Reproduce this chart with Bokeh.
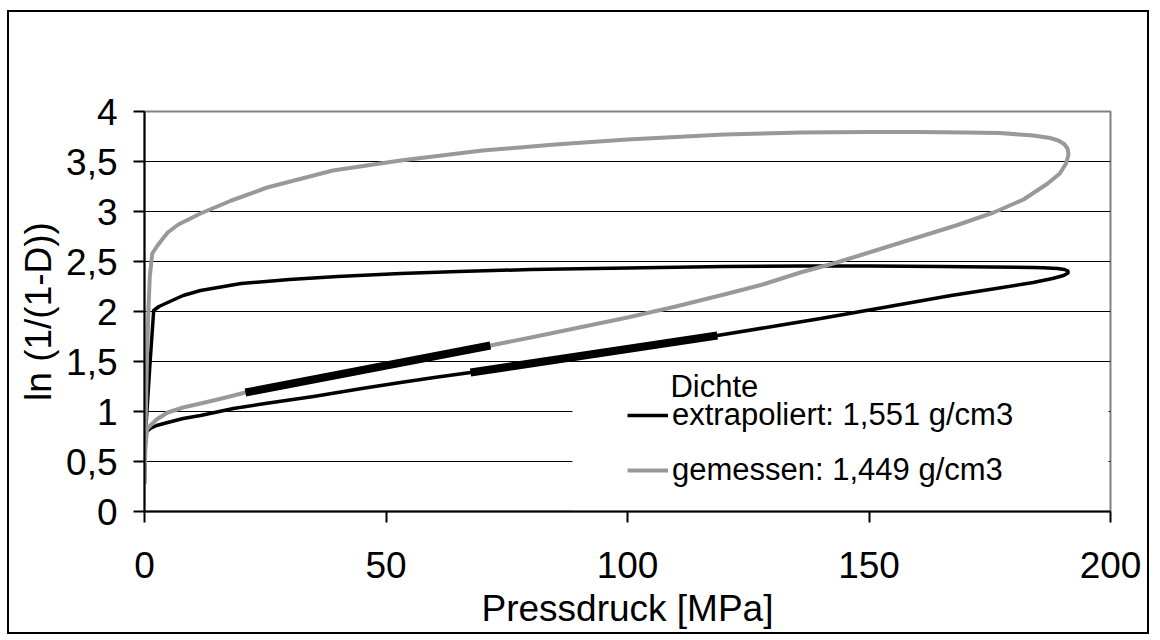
from bokeh.plotting import figure
from bokeh.models import Legend, LegendItem, BoxAnnotation, Label, FixedTicker, Range1d
from bokeh.embed import file_html
from bokeh.resources import INLINE

# Pressdruck [MPa] vs. ln(1/(1-D)), density 1,551 g/cm3 (extrapolated)
extrap_p = [0, 0.2, 0.5, 1.2, 2.5, 4.8, 8, 11.6, 18.4, 25, 35, 45, 53, 60, 67.5,
            80, 95, 110, 118.6, 130, 140, 153, 160, 167, 175, 184, 188, 190.3,
            191.2, 191.2, 190.5, 189, 186, 184, 175, 165, 150, 136, 120, 100, 80, 65, 53,
            40, 30, 20, 11.6, 8, 4.8, 3, 1.9, 1.1, 0.5, 0.2, 0]
extrap_v = [0.28, 0.78, 0.80, 0.83, 0.86, 0.89, 0.93, 0.96, 1.03, 1.08, 1.15, 1.23, 1.29, 1.34, 1.39,
            1.48, 1.59, 1.69, 1.76, 1.85, 1.93, 2.04, 2.10, 2.16, 2.22, 2.29, 2.33, 2.36,
            2.385, 2.405, 2.42, 2.43, 2.437, 2.44, 2.445, 2.45, 2.455, 2.455, 2.45, 2.435, 2.42, 2.40, 2.38,
            2.35, 2.32, 2.28, 2.21, 2.16, 2.09, 2.05, 2.01, 1.45, 1.00, 0.79, 0.28]

# density 1,449 g/cm3 (measured)
gemessen_p = [0, 0.15, 0.5, 1.2, 2.5, 4.8, 8, 11.6, 16, 20.9, 30, 40, 50, 60, 71.6,
              80, 90, 100, 110, 120, 128, 135.8, 142.6, 150, 160, 168, 175.8, 182,
              187, 189.5, 190.8, 191.3, 191.1, 190.4, 189.2, 187.5, 184, 177, 170, 160, 150, 136,
              120, 100, 85, 70, 53, 39, 25.4, 18, 11.6, 7, 4.8, 2.7, 1.6, 1.1, 0.8,
              0.5, 0.25, 0]
gemessen_v = [0.28, 0.6, 0.82, 0.86, 0.92, 0.99, 1.04, 1.08, 1.13, 1.19, 1.27, 1.36, 1.46, 1.56, 1.66,
              1.74, 1.84, 1.94, 2.05, 2.17, 2.27, 2.39, 2.48, 2.59, 2.74, 2.86, 2.99, 3.12,
              3.28, 3.38, 3.48, 3.57, 3.63, 3.675, 3.71, 3.735, 3.76, 3.785, 3.79, 3.795, 3.795, 3.79,
              3.77, 3.72, 3.67, 3.61, 3.51, 3.41, 3.24, 3.11, 2.98, 2.87, 2.79, 2.66, 2.58, 2.35, 2.0,
              1.5, 0.9, 0.28]

# linear fit ranges on both loading curves
fit_gem_p = [20.9, 71.6]
fit_gem_v = [1.19, 1.66]
fit_ext_p = [67.5, 118.6]
fit_ext_v = [1.39, 1.76]

x_ticks = [0, 50, 100, 150, 200]
y_ticks = [0, 0.5, 1, 1.5, 2, 2.5, 3, 3.5, 4]
y_tick_labels = ["0", "0,5", "1", "1,5", "2", "2,5", "3", "3,5", "4"]
grid_levels = [0.5, 1, 1.5, 2, 2.5, 3, 3.5]

FONT = "Liberation Sans"

p = figure(width=1142, height=624, output_backend="svg", toolbar_location=None,
           x_range=Range1d(0, 200), y_range=Range1d(0, 4),
           min_border_left=135, min_border_right=41, min_border_top=99, min_border_bottom=125,
           margin=(10, 0, 0, 7), styles={"border": "2px solid black"})
p.background_fill_color = "white"
p.border_fill_color = "white"
p.outline_line_color = "#808080"
p.outline_line_width = 2

p.xgrid.visible = False
p.ygrid.ticker = FixedTicker(ticks=grid_levels)
p.ygrid.grid_line_color = "black"
p.ygrid.grid_line_width = 1

for ax in (p.xaxis[0], p.yaxis[0]):
    ax.axis_line_color = "black"
    ax.axis_line_width = 2
    ax.major_tick_line_color = "black"
    ax.major_tick_line_width = 2
    ax.major_tick_in = 0
    ax.major_tick_out = 11
    ax.minor_tick_line_color = None
    ax.major_label_text_font = FONT
    ax.major_label_text_font_size = "37px"
    ax.major_label_text_color = "black"
    ax.axis_label_text_font = FONT
    ax.axis_label_text_font_size = "37px"
    ax.axis_label_text_font_style = "normal"
    ax.axis_label_text_color = "black"

p.xaxis.ticker = FixedTicker(ticks=x_ticks)
p.yaxis.ticker = FixedTicker(ticks=y_ticks)
p.yaxis.major_label_overrides = dict(zip(y_ticks, y_tick_labels))
p.xaxis.axis_label = "Pressdruck [MPa]"
p.yaxis.axis_label = "ln (1/(1-D))"
p.xaxis.major_label_standoff = 29
p.xaxis.axis_label_standoff = 7
p.yaxis.major_label_standoff = 16
p.yaxis.axis_label_standoff = 4

# white area behind the legend
p.add_layout(BoxAnnotation(left=88.6, right=199.6, bottom=0.01, top=1.45,
                           fill_color="white", fill_alpha=1, line_color=None,
                           level="underlay"))

r_ext = p.line(extrap_p, extrap_v, line_color="black", line_width=3.5, line_join="round")
r_gem = p.line(gemessen_p, gemessen_v, line_color="#999999", line_width=4, line_join="round")
p.line(fit_gem_p, fit_gem_v, line_color="black", line_width=8, line_cap="butt")
p.line(fit_ext_p, fit_ext_v, line_color="black", line_width=8, line_cap="butt")

legend = Legend(items=[LegendItem(label="extrapoliert: 1,551 g/cm3", renderers=[r_ext]),
                       LegendItem(label="gemessen: 1,449 g/cm3", renderers=[r_gem])],
                location=(483, 23), padding=0, margin=0, spacing=19,
                glyph_width=41, glyph_height=20, label_standoff=4,
                label_text_font=FONT, label_text_font_size="31px", label_text_color="black",
                background_fill_alpha=0, border_line_alpha=0)
p.add_layout(legend)

p.add_layout(Label(x=108.9, y=1.25, text="Dichte", text_font=FONT, text_font_size="31px",
                   text_color="black", text_baseline="alphabetic"))

open("out.html", "w").write(file_html(p, INLINE))
